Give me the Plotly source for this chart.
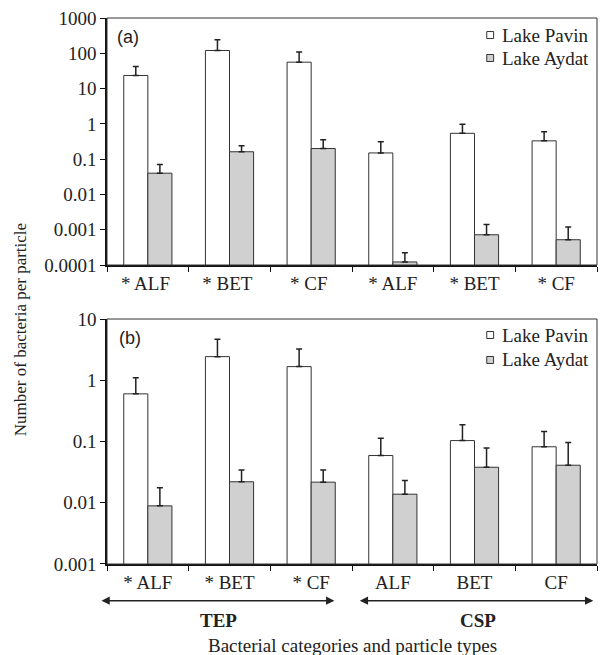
import plotly.graph_objects as go

# ---- data ----
cats_a = ["* ALF ", "* BET ", "* CF ", "* ALF", "* BET", "* CF"]
pavin_a = [23.5, 120, 56, 0.15, 0.54, 0.33]
pavin_a_up = [42, 240, 108, 0.31, 0.97, 0.60]
aydat_a = [0.040, 0.162, 0.20, 0.000122, 0.00072, 0.00052]
aydat_a_up = [0.071, 0.24, 0.355, 0.000224, 0.0014, 0.0012]

cats_b = ["* ALF", "* BET", "* CF", "ALF", "BET", "CF"]
pavin_b = [0.60, 2.43, 1.67, 0.059, 0.1035, 0.082]
pavin_b_up = [1.10, 4.66, 3.24, 0.113, 0.187, 0.145]
aydat_b = [0.0089, 0.022, 0.0217, 0.0138, 0.038, 0.041]
aydat_b_up = [0.0175, 0.0344, 0.0344, 0.0231, 0.078, 0.096]

series_names = ["Lake Pavin", "Lake Aydat"]
ticks_a = [1000, 100, 10, 1, 0.1, 0.01, 0.001, 0.0001]
ticktext_a = ["1000", "100", "10", "1", "0.1", "0.01", "0.001", "0.0001"]
ticks_b = [10, 1, 0.1, 0.01, 0.001]
ticktext_b = ["10", "1", "0.1", "0.01", "0.001"]

SERIF = "Liberation Serif, Times New Roman, serif"
SANS = "Liberation Sans, Arial, sans-serif"
FS = 19
EDGE = "#333333"
GREY = "#d0d0d0"
TXT = "#222222"
colors = ["white", GREY]


def err(vals, ups):
    return dict(type="data", symmetric=False, array=[u - v for v, u in zip(vals, ups)],
                arrayminus=[0] * len(vals), color="#222222", thickness=1.5, width=3)


fig = go.Figure()
for vals, ups, nm, col in ((pavin_a, pavin_a_up, series_names[0], colors[0]),
                           (aydat_a, aydat_a_up, series_names[1], colors[1])):
    fig.add_bar(x=cats_a, y=vals, name=nm, marker=dict(color=col, line=dict(color=EDGE, width=1)),
                error_y=err(vals, ups), xaxis="x", yaxis="y", showlegend=False)
for vals, ups, nm, col in ((pavin_b, pavin_b_up, series_names[0], colors[0]),
                           (aydat_b, aydat_b_up, series_names[1], colors[1])):
    fig.add_bar(x=cats_b, y=vals, name=nm, marker=dict(color=col, line=dict(color=EDGE, width=1)),
                error_y=err(vals, ups), xaxis="x2", yaxis="y2", showlegend=False)

xcommon = dict(type="category", showline=True, linecolor="#111111", linewidth=2, ticks="outside",
               tickson="boundaries", ticklen=5, tickcolor="#111111", tickfont=dict(family=SERIF, size=FS, color=TXT),
               showgrid=False, domain=[0, 1], fixedrange=True)
ycommon = dict(type="log", showline=True, linecolor="#111111", linewidth=1.5, ticks="outside", ticklen=5,
               tickcolor="#111111", tickfont=dict(family=SERIF, size=FS, color=TXT), showgrid=False,
               zeroline=False)

fig.update_layout(
    width=603, height=655, margin=dict(l=107, r=6, t=18, b=91),
    plot_bgcolor="white", paper_bgcolor="white",
    barmode="group", bargap=0.41, bargroupgap=0,
    xaxis=dict(**xcommon, anchor="y"),
    xaxis2=dict(**xcommon, anchor="y2"),
    yaxis=dict(**ycommon, domain=[0.5476, 1], range=[-4, 3], tickvals=ticks_a, ticktext=ticktext_a, anchor="x"),
    yaxis2=dict(**ycommon, domain=[0, 0.4487], range=[-3, 1], tickvals=ticks_b, ticktext=ticktext_b, anchor="x2"),
    showlegend=False,
)

# frames
for xr, yr in (("x domain", "y domain"), ("x2 domain", "y2 domain")):
    fig.add_shape(type="rect", xref=xr, yref=yr, x0=0, x1=1, y0=0, y1=1,
                  line=dict(color=EDGE, width=1), fillcolor="rgba(0,0,0,0)")

ann = [
    dict(text="(a)", xref="x domain", yref="y domain", x=0.016, y=0.924, xanchor="left", yanchor="middle",
         font=dict(family=SANS, size=18, color=TXT), showarrow=False),
    dict(text="(b)", xref="x2 domain", yref="y2 domain", x=0.02, y=0.922, xanchor="left", yanchor="middle",
         font=dict(family=SANS, size=18, color=TXT), showarrow=False),
    dict(text="Number of bacteria per particle", xref="paper", yref="paper", x=-0.175, y=0.4286,
         xanchor="center", yanchor="middle",
         textangle=-90, showarrow=False, font=dict(family=SERIF, size=17, color=TXT)),
    dict(text="Bacterial categories and particle types", xref="paper", yref="paper", x=0.5, y=-0.1484,
         xanchor="center", yanchor="middle", showarrow=False, font=dict(family=SERIF, size=FS, color=TXT)),
    dict(text="<b>TEP</b>", xref="paper", yref="paper", x=0.2272, y=-0.1026, xanchor="center", yanchor="middle",
         showarrow=False, font=dict(family=SERIF, size=FS, color=TXT)),
    dict(text="<b>CSP</b>", xref="paper", yref="paper", x=0.7578, y=-0.1026, xanchor="center", yanchor="middle",
         showarrow=False, font=dict(family=SERIF, size=FS, color=TXT)),
]
# double-headed arrows below panel (b)
for x0, x1 in ((-0.0143, 0.4639), (0.5129, 0.9924)):
    ann.append(dict(text="", xref="x2 domain", yref="y2 domain", axref="x2 domain", ayref="y2 domain",
                    x=x1, y=-0.15, ax=x0, ay=-0.15, showarrow=True, arrowhead=2, startarrowhead=2,
                    arrowside="end+start", arrowsize=1.1, startarrowsize=1.1, arrowwidth=1.5, arrowcolor=TXT))

# legends (drawn in each panel)
for xr, yr, rows, half in (("x domain", "y domain", (0.931, 0.838), 3.5 / 247),
                           ("x2 domain", "y2 domain", (0.9347, 0.8327), 3.5 / 245)):
    for yc, nm, col in zip(rows, series_names, colors):
        fig.add_shape(type="rect", xref=xr, yref=yr, x0=0.775, x1=0.789, y0=yc - half, y1=yc + half,
                      line=dict(color=EDGE, width=1), fillcolor=col)
        ann.append(dict(text=nm, xref=xr, yref=yr, x=0.802, y=yc, xanchor="left", yanchor="middle",
                        showarrow=False, font=dict(family=SERIF, size=FS, color=TXT)))

fig.update_layout(annotations=ann)

fig.write_html("out.html", config={"displayModeBar": False},
               post_script="document.body.style.margin='0px';")
